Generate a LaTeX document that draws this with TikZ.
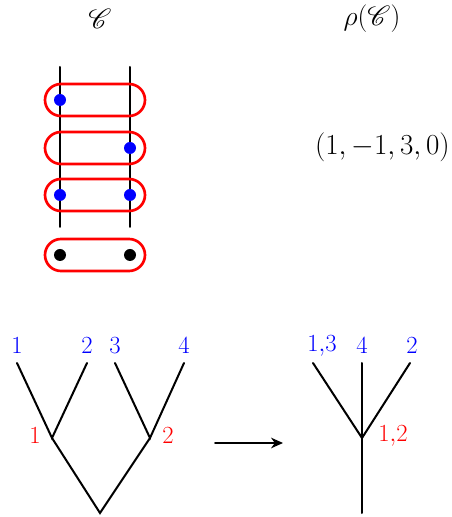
\documentclass[tikz,border=0pt]{standalone}
\usepackage{amsmath,amssymb,mathrsfs}
\usepackage{xcolor}
\usepackage{tikz}
\usetikzlibrary{arrows.meta,calc,positioning,shapes.misc}

\begin{document}
\begin{tikzpicture}[x=7.5pt,y=7.5pt,line cap=round,
    pill/.style={draw=red,line width=2pt,rounded rectangle,minimum width=75pt,minimum height=24pt,inner sep=0pt},
    dot/.style={circle,fill=#1,minimum size=9pt,inner sep=0pt},
    edge/.style={line width=1.5pt},
    leaf/.style={font=\LARGE,text=blue,inner sep=0pt,scale=1.07,transform shape},
    vlab/.style={font=\LARGE,text=red,inner sep=0pt,scale=1.07,transform shape}]
  \useasboundingbox (0,0) rectangle (45.1,51.7);
  % top row
  \node[font=\huge] (ctitle) at (10,49.8) {$\mathscr{C}$};
  \node[font=\huge] (rtitle) at (37.2,49.8) {$\rho(\mathscr{C})$};
  \node[font=\huge,anchor=east,inner sep=0pt,scale=1.05,transform shape] (tuple) at (45.0,37.0) {$(1,-1,3,0)$};
  % strands
  \foreach \x/\n in {6/a,13/b} {
    \coordinate (\n top) at (\x,45);
    \coordinate (\n bot) at (\x,29);
    \draw[edge] (\n top) -- (\n bot);
  }
  \foreach \y/\n in {41.7/1,36.9/2,32.2/3,26.2/4}
    \node[pill] (p\n) at (9.5,\y) {};
  \node[dot=blue] (d1) at (6,41.7) {};
  \node[dot=blue] (d2) at (13,36.9) {};
  \node[dot=blue] (d3) at (6,32.2) {};
  \node[dot=blue] (d4) at (13,32.2) {};
  \node[dot=black] (d5) at (6,26.2) {};
  \node[dot=black] (d6) at (13,26.2) {};
  % left tree
  \foreach \x/\n in {1.7/1,8.7/2,11.5/3,18.4/4} {
    \coordinate (t\n) at (\x,15.4);
    \node[leaf] (lt\n) at (\x,17.1) {$\n$};
  }
  \coordinate (u1) at (5.2,7.9);
  \coordinate (u2) at (15.0,7.9);
  \coordinate (u0) at (10.0,0.4);
  \draw[edge] (t1) -- (u1) -- (t2);
  \draw[edge] (t3) -- (u2) -- (t4);
  \draw[edge] (u1) -- (u0) -- (u2);
  \node[vlab] (lu1) at (3.5,8.1) {$1$};
  \node[vlab] (lu2) at (16.8,8.1) {$2$};
  % arrow
  \coordinate (ar0) at (21.5,7.4);
  \coordinate (ar1) at (28.3,7.4);
  \draw[edge,line width=1.2pt,-{Stealth[length=9pt,width=8pt]}] (ar0) -- (ar1);
  % right tree
  \coordinate (s1) at (31.3,15.4);
  \coordinate (s2) at (36.2,15.4);
  \coordinate (s3) at (41.0,15.4);
  \coordinate (v) at (36.2,7.9);
  \coordinate (v0) at (36.2,0.4);
  \draw[edge] (s1) -- (v) -- (s3);
  \draw[edge] (s2) -- (v0);
  \node[leaf] (ls1) at (32.2,17.1) {$1{,}3$};
  \node[leaf] (ls2) at (36.2,17.1) {$4$};
  \node[leaf] (ls3) at (41.2,17.1) {$2$};
  \node[vlab] (lv) at (39.3,8.1) {$1{,}2$};
\end{tikzpicture}
\end{document}
